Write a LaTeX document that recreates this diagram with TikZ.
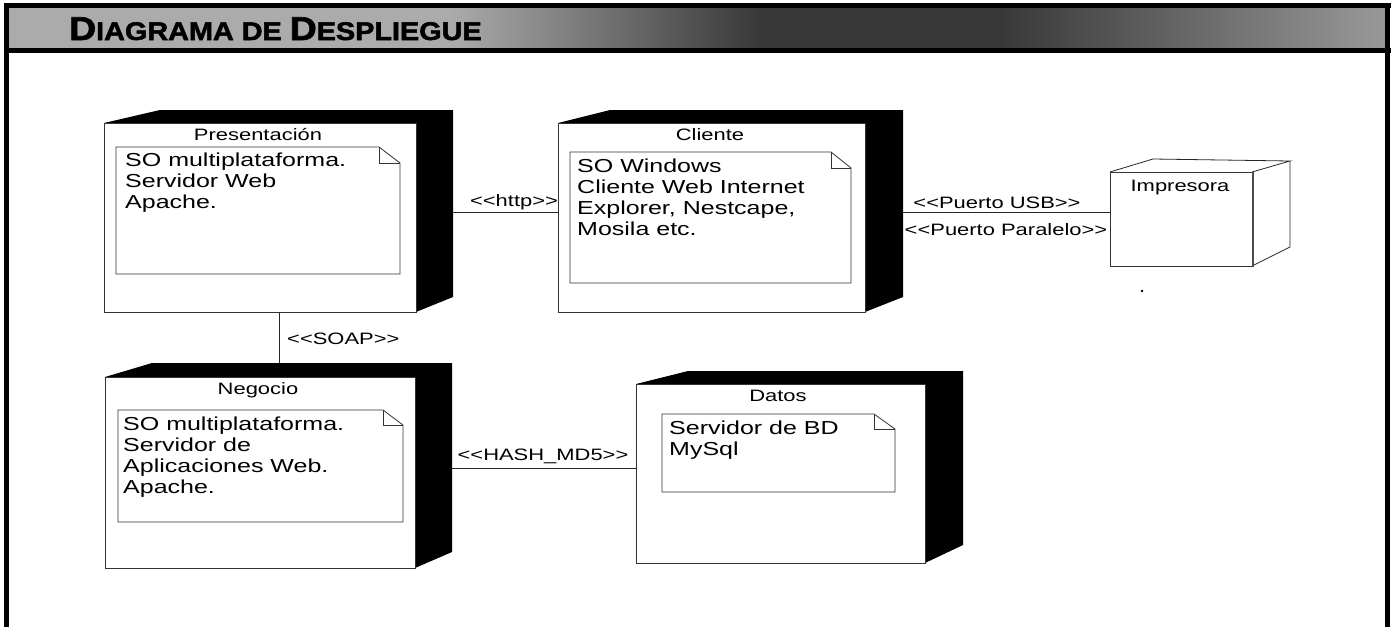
\documentclass[tikz,border=0pt]{standalone}
\usepackage{fontspec}
\setmainfont{Liberation Sans}
\newfontfamily\umlfont[FakeStretch=1.33]{Liberation Sans}
\newfontfamily\bannerfont[FakeStretch=1.13,FakeBold=2]{Liberation Sans Bold}
\newcommand\stereo[1]{\textless\textless#1\textgreater\textgreater}
\tikzset{
 solidside/.style={fill=black},
 frontface/.style={draw=black!80, line width=0.8pt, fill=white, inner sep=0pt, anchor=north west},
 notebox/.style={draw=black!80, line width=0.8pt, fill=white},
 foldline/.style={draw=black!80, line width=0.8pt},
 nodetitle/.style={font=\umlfont\fontsize{16.5}{18}\selectfont, anchor=base, inner sep=0pt},
 notetext/.style={font=\umlfont\fontsize{18.8}{21}\selectfont, align=left, anchor=north west, inner sep=0pt},
 conn/.style={draw=black!85, line width=0.8pt},
 connlabel/.style={font=\umlfont\fontsize{16.5}{18}\selectfont, inner sep=0pt, anchor=base},
 boxline/.style={draw=black!85, line width=0.8pt},
}
\begin{document}
\begin{tikzpicture}[x=1pt,y=-1pt]
\useasboundingbox (0,0) rectangle (1394,627);
\fill[white] (0,0) rectangle (1394,627);
% banner
\fill[black!33] (8,8) rectangle (450,48);
\shade[left color=black!33, right color=black!78] (450,8) rectangle (760,48);
\fill[black!78] (760,8) rectangle (1000,48);
\shade[left color=black!78, right color=black!40] (1000,8) rectangle (1386,48);
\fill[black] (4,3) rectangle (1391,8);
\fill[black] (4,48) rectangle (1391,53);
\fill[black] (4,3) rectangle (9,627);
\fill[black] (1385,3) rectangle (1390,627);
\node[anchor=base west, inner sep=0pt, font=\bannerfont] (banner) at (69,40)
 {\fontsize{33}{33}\selectfont D\fontsize{25.5}{25.5}\selectfont IAGRAMA DE \fontsize{33}{33}\selectfont D\fontsize{25.5}{25.5}\selectfont ESPLIEGUE};

% Presentacion
\fill[solidside] (104,123) -- (160,110) -- (453,110) -- (453,297) -- (416,312) -- (416,123) -- cycle;
\node[frontface, minimum width=312pt, minimum height=189pt] (pres) at (104,123) {};
\node[nodetitle] (presT) at (258,140) {Presentación};
\path[notebox] (116,147) -- (379,147) -- (400,163) -- (400,274) -- (116,274) -- cycle;
\path[foldline] (379,147) -- (379,163) -- (400,163);
\node[notetext] (presN) at (125,153) {SO multiplataforma.\\Servidor Web\\Apache.};

% Cliente
\fill[solidside] (558,123) -- (610,110) -- (903,110) -- (903,297) -- (865,312) -- (865,123) -- cycle;
\node[frontface, minimum width=307pt, minimum height=189pt] (cli) at (558,123) {};
\node[nodetitle] (cliT) at (710,140.5) {Cliente};
\path[notebox] (570,152) -- (831,152) -- (851,168) -- (851,283) -- (570,283) -- cycle;
\path[foldline] (831,152) -- (831,168) -- (851,168);
\node[notetext] (cliN) at (577,159) {SO Windows\\Cliente Web Internet\\Explorer, Nestcape,\\Mosila etc.};

% Negocio
\fill[solidside] (105,377) -- (152,363) -- (452,363) -- (452,552) -- (415,568) -- (415,377) -- cycle;
\node[frontface, minimum width=310pt, minimum height=191pt] (neg) at (105,377) {};
\node[nodetitle] (negT) at (258,394) {Negocio};
\path[notebox] (118,410) -- (383,410) -- (403,425) -- (403,522) -- (118,522) -- cycle;
\path[foldline] (383,410) -- (383,425) -- (403,425);
\node[notetext] (negN) at (123,417) {SO multiplataforma.\\Servidor de\\Aplicaciones Web.\\Apache.};

% Datos
\fill[solidside] (636,384) -- (688,371) -- (963,371) -- (963,545) -- (925,563) -- (925,384) -- cycle;
\node[frontface, minimum width=289pt, minimum height=179pt] (dat) at (636,384) {};
\node[nodetitle] (datT) at (778,401) {Datos};
\path[notebox] (662,414) -- (874,414) -- (895,429) -- (895,492) -- (662,492) -- cycle;
\path[foldline] (874,414) -- (874,429) -- (895,429);
\node[notetext] (datN) at (669,421) {Servidor de BD\\MySql};

% Impresora
\path[boxline] (1110,172) -- (1153,159) -- (1290,161) -- (1252,172);
\path[boxline] (1290,161) -- (1290,247) -- (1252,266);
\node[frontface, minimum width=142pt, minimum height=94pt] (imp) at (1110,172) {};
\draw[black!70, line width=2pt] (imp.north east) -- (imp.south east);
\node[nodetitle] (impT) at (1180,191) {Impresora};
\fill[black] (1142,291) circle (1.4);

% connectors
\coordinate (httpA) at (453,212);
\draw[conn] (httpA) -- (cli.west |- httpA);
\node[connlabel] (httpL) at (514,206) {\stereo{http}};

\coordinate (usbA) at (903,212);
\draw[conn] (usbA) -- (imp.west |- usbA);
\node[connlabel] (usbL) at (997,208) {\stereo{Puerto USB}};
\node[connlabel] (parL) at (1006,235) {\stereo{Puerto Paralelo}};

\coordinate (soapB) at (279,363);
\draw[conn] (pres.south -| soapB) -- (soapB);
\node[connlabel, anchor=base west] (soapL) at (287,344) {\stereo{SOAP}};

\coordinate (hashA) at (452,468);
\draw[conn] (hashA) -- (dat.west |- hashA);
\node[connlabel] (hashL) at (543,460) {\stereo{HASH\_MD5}};
\end{tikzpicture}
\end{document}
